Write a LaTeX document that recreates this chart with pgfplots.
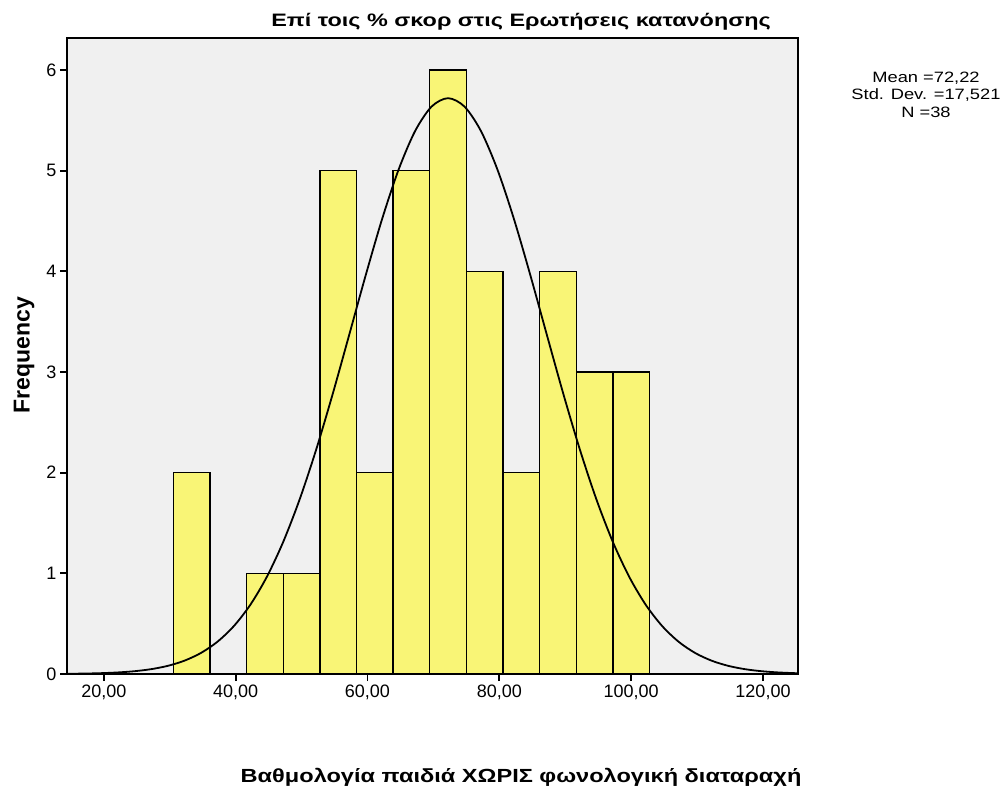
\documentclass[border=0pt]{standalone}
\usepackage{pgfplots}
\pgfplotsset{compat=1.18}
\usepackage{fontspec}
\setmainfont{Liberation Sans}
\definecolor{bgc}{RGB}{240,240,240}
\definecolor{baryel}{RGB}{249,245,118}
\begin{document}
\begin{tikzpicture}[x=1pt,y=1pt]
\path[use as bounding box] (0,0) rectangle (1006,-794);
\begin{axis}[at={(67pt,-674pt)}, anchor=south west, scale only axis,
  width=731pt, height=636pt,
  xmin=14.42, xmax=125.31, ymin=0, ymax=6.318,
  axis background/.style={fill=bgc},
  axis line style={black, line width=1.8pt},
  xtick={20,40,...,120}, ytick={0,1,...,6},
  tick pos=left, tick align=outside,
  tick style={black, line width=1.8pt}, major tick length=7pt,
  xticklabel style={font=\fontsize{18}{21}\selectfont, /pgf/number format/.cd, fixed, fixed zerofill, precision=2, use comma, assume math mode=true},
  yticklabel style={font=\fontsize{18}{21}\selectfont, /pgf/number format/assume math mode=true},
  clip=true]
\addplot[ybar interval, fill=baryel, draw=black, line width=1.4pt] coordinates {
(30.556,2) (36.111,0) (41.667,1) (47.222,1) (52.778,5) (58.333,2) (63.889,5)
(69.444,6) (75.000,4) (80.556,2) (86.111,4) (91.667,3) (97.222,3) (102.778,3)};
\addplot[black, line width=1.8pt, smooth, mark=none] coordinates {
(14.42,0.0022) (14.72,0.0024) (17.22,0.0046) (19.72,0.0087) (22.22,0.0159)
(24.72,0.0282) (27.22,0.0485) (29.72,0.0812) (32.22,0.1320) (34.72,0.2084)
(37.22,0.3194) (39.72,0.4753) (42.22,0.6867) (44.72,0.9634) (47.22,1.3126)
(49.72,1.7362) (52.22,2.2297) (54.72,2.7806) (57.22,3.3670) (59.72,3.9586)
(62.22,4.5197) (64.72,5.0102) (67.22,5.3929) (69.72,5.6364) (72.22,5.7200)
(74.72,5.6364) (77.22,5.3929) (79.72,5.0102) (82.22,4.5197) (84.72,3.9586)
(87.22,3.3670) (89.72,2.7806) (92.22,2.2297) (94.72,1.7362) (97.22,1.3126)
(99.72,0.9634) (102.22,0.6867) (104.72,0.4753) (107.22,0.3194) (109.72,0.2084)
(112.22,0.1320) (114.72,0.0812) (117.22,0.0485) (119.72,0.0282) (122.22,0.0159)
(124.72,0.0087) (125.31,0.0075)};
\end{axis}
\node[font=\bfseries\fontsize{18}{21}\selectfont] at (521,-22) {\scalebox{1.3}[1]{Επί τοις \% σκορ στις Ερωτήσεις κατανόησης}};
\node[font=\bfseries\fontsize{19}{22}\selectfont] at (521,-777) {\scalebox{1.24}[1]{Βαθμολογία παιδιά ΧΩΡΙΣ φωνολογική διαταραχή}};
\node[font=\bfseries\fontsize{23}{26}\selectfont, rotate=90] at (24,-355) {Frequency};
\node[font=\fontsize{15}{17}\selectfont] at (926,-78) {\scalebox{1.22}[1]{Mean =72,22}};
\node[font=\fontsize{15}{17}\selectfont] at (926,-95) {\scalebox{1.22}[1]{Std. Dev. =17,521}};
\node[font=\fontsize{15}{17}\selectfont] at (926,-112) {\scalebox{1.22}[1]{N =38}};
\end{tikzpicture}
\end{document}
